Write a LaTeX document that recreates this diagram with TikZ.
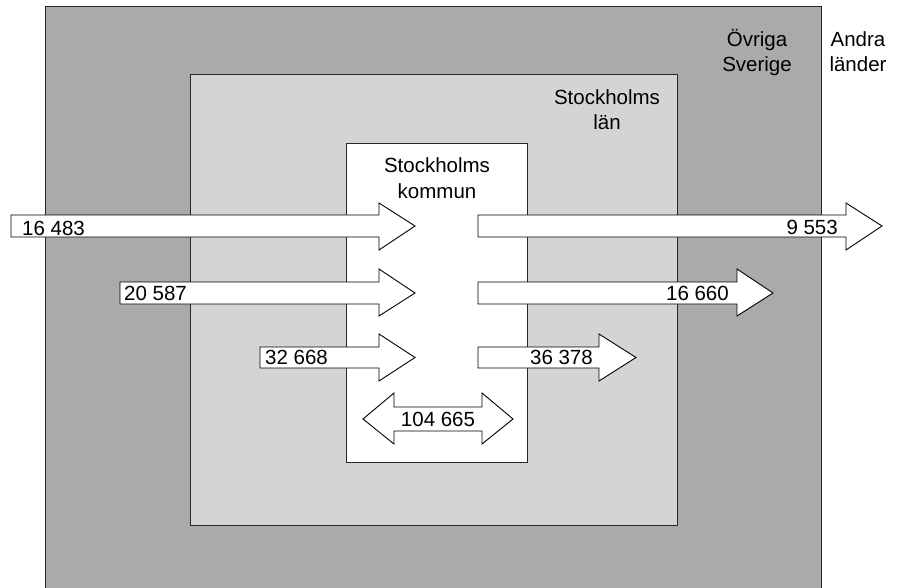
\documentclass[tikz,border=0pt]{standalone}
\usepackage{fontspec}
\setmainfont{Liberation Sans}
\definecolor{darkgrey}{HTML}{AAAAAA}
\definecolor{lightgrey}{HTML}{D4D4D4}
\begin{document}
\begin{tikzpicture}[x=1pt,y=-1pt,
  region/.style={draw=black!85,line width=1pt},
  flowarrow/.style={draw=black,fill=white,line width=0.9pt,line join=miter},
  lbl/.style={font=\fontsize{20.5}{25.5}\selectfont,inner sep=0pt,align=center,anchor=base},
  num/.style={font=\fontsize{20.5}{24}\selectfont,inner sep=0pt}]
\useasboundingbox (0,0) rectangle (901,588);
% regions
\fill[darkgrey] (45,7) rectangle (821,588);
\draw[region] (45,588.5) -- (45,7) -- (821,7) -- (821,588.5);
\draw[region,fill=lightgrey] (190,75) rectangle (677,525);
\draw[region,fill=white] (346,144) rectangle (527,462);
% region labels (anchor = baseline of the last line)
\node[lbl] (ovriga) at (757,72) {Övriga\\Sverige};
\node[lbl] (andra) at (858,72) {Andra\\länder};
\node[lbl] (lan) at (607,130) {Stockholms\\län};
\node[lbl] (kommun) at (437,198) {Stockholms\\kommun};
% incoming arrows
\draw[flowarrow] (11,215) -- (379,215) -- (379,203) -- (415,226) -- (379,250) -- (379,237) -- (11,237) -- cycle;
\draw[flowarrow] (120,282) -- (379,282) -- (379,269) -- (415,293) -- (379,316) -- (379,304) -- (120,304) -- cycle;
\draw[flowarrow] (260,347) -- (379,347) -- (379,334) -- (415,357.5) -- (379,381) -- (379,368) -- (260,368) -- cycle;
\node[num,anchor=base west] (in1) at (22,235) {16 483};
\node[num,anchor=base west] (in2) at (124,300) {20 587};
\node[num,anchor=base west] (in3) at (265,364) {32 668};
% outgoing arrows
\draw[flowarrow] (478,215) -- (846,215) -- (846,203) -- (882,226) -- (846,250) -- (846,237) -- (478,237) -- cycle;
\draw[flowarrow] (478,282) -- (737,282) -- (737,269) -- (773,293) -- (737,316) -- (737,304) -- (478,304) -- cycle;
\draw[flowarrow] (478,347) -- (599,347) -- (599,334) -- (636,357.5) -- (599,381) -- (599,368) -- (478,368) -- cycle;
\node[num,anchor=base east] (out1) at (838,234) {9 553};
\node[num,anchor=base east] (out2) at (729,300) {16 660};
\node[num,anchor=base east] (out3) at (593,364) {36 378};
% internal double arrow
\draw[flowarrow] (363,419) -- (394,393) -- (394,407) -- (482,407) -- (482,393) -- (513,419) -- (482,444) -- (482,431) -- (394,431) -- (394,444) -- cycle;
\node[num,anchor=base] (internal) at (438,426) {104 665};
\end{tikzpicture}
\end{document}
